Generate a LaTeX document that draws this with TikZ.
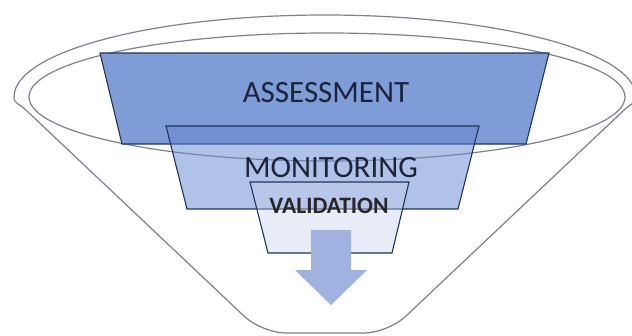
\documentclass[tikz,border=0pt]{standalone}
\usepackage{fontspec}
\setmainfont{Carlito}
\definecolor{rimgray}{RGB}{125,130,142}
\definecolor{edgenavy}{RGB}{32,52,96}
\definecolor{assessfill}{RGB}{126,156,214}
\definecolor{monitorfill}{RGB}{100,134,210}
\definecolor{validfill}{RGB}{196,208,236}
\definecolor{arrowfill}{RGB}{160,178,224}
\definecolor{labelink}{RGB}{28,36,60}
\tikzset{
  rim/.style={draw=rimgray, line width=1.2pt},
  tier/.style={draw=edgenavy, line width=1.1pt, line join=miter},
  biglabel/.style={font=\fontsize{31}{31}\selectfont, text=labelink, inner sep=0pt, anchor=base},
  smalllabel/.style={font=\bfseries\fontsize{23.5}{23.5}\selectfont, text=black!85, inner sep=0pt, anchor=base}
}
\begin{document}
\begin{tikzpicture}[x=1pt,y=-1pt]
  \useasboundingbox (0,0) rectangle (632,335);
  \fill[white] (0,0) rectangle (632,335);
  \clip (0,0) rectangle (632,335);

  % funnel body: open rim on top, sides meeting a rounded flat bottom
  \draw[rim]
    (28,112) .. controls (18,102) and (14,104) .. (14,97)
    arc[start angle=180, end angle=360, x radius=311, y radius=82]
    .. controls (636,104) and (632,102) .. (622,112);
  \draw[rim, rounded corners=24] (622,112) -- (388,333) -- (262,333) -- (28,112);
  % inner lip of the rim
  \draw[rim] (327,97) ellipse[x radius=298, y radius=64];

  % top tier
  \path[tier, fill=assessfill] (100,53) -- (549,53) -- (526,144) -- (122,144) -- cycle;
  % middle tier, translucent
  \path[tier, fill=monitorfill, fill opacity=0.5] (166,126) -- (479,126) -- (458,209) -- (187,209) -- cycle;
  % bottom tier, translucent
  \path[tier, fill=validfill, fill opacity=0.4] (250,182) -- (409,182) -- (392,253) -- (268,253) -- cycle;

  % outflow arrow
  \fill[arrowfill] (311,230) -- (351,230) -- (351,270) -- (367,270) -- (331,305)
    -- (295,270) -- (311,270) -- cycle;

  \node[biglabel] (assess) at (326,102) {ASSESSMENT};
  \node[biglabel] (monitor) at (331,177) {MONITORING};
  \node[smalllabel] (valid) at (329,213) {VALIDATION};
\end{tikzpicture}
\end{document}
